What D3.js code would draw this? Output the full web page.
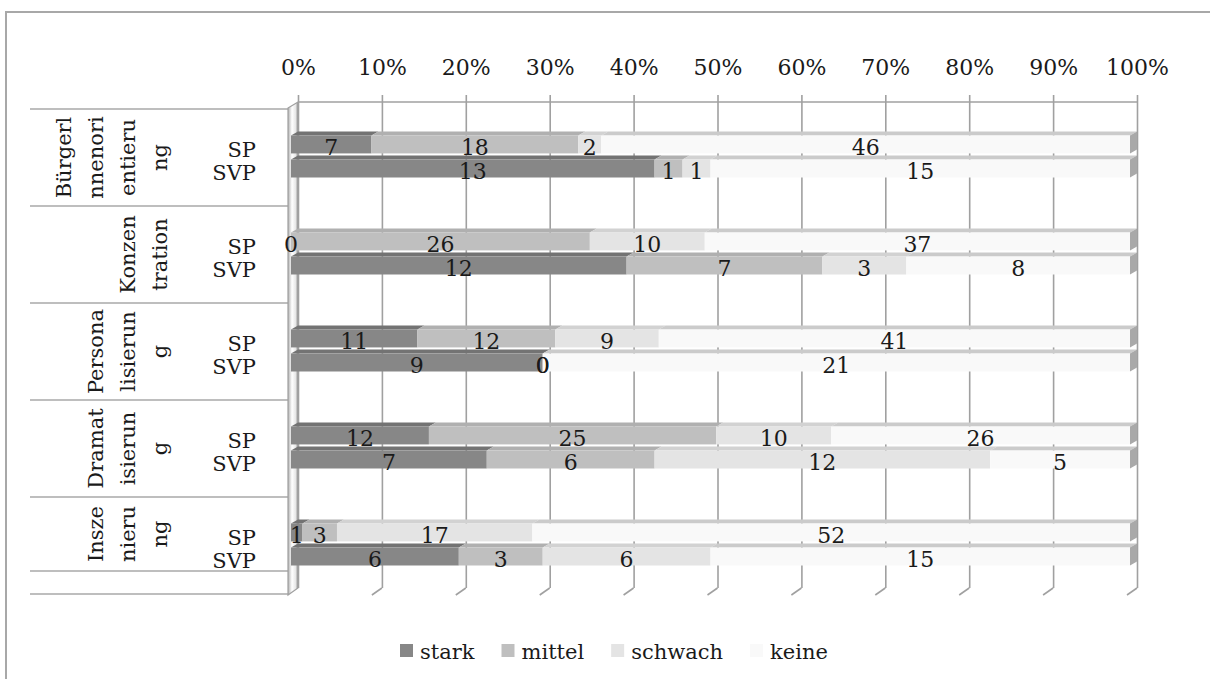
<!DOCTYPE html>
<html lang="de">
<head>
<meta charset="utf-8">
<title>Stacked 3D bars</title>
<script src="https://d3js.org/d3.v7.min.js"></script>
<style>
  body { margin: 0; background: #fff; }
  text { font-family: "DejaVu Serif", serif; fill: #1a1a1a; }
</style>
</head>
<body>
<script>
// chart data (counts per level)
var categories = ["Bürgerinnenorientierung", "Konzentration", "Personalisierung", "Dramatisierung", "Inszenierung"];
var categoryLines = [["Bürgerl", "nnenori", "entieru", "ng"], ["Konzen", "tration"], ["Persona", "lisierun", "g"], ["Dramat", "isierun", "g"], ["Insze", "nieru", "ng"]];
var parties = ["SP", "SVP"];
var levels = ["stark", "mittel", "schwach", "keine"];
var spValues = [[7, 18, 2, 46], [0, 26, 10, 37], [11, 12, 9, 41], [12, 25, 10, 26], [1, 3, 17, 52]];
var svpValues = [[13, 1, 1, 15], [12, 7, 3, 8], [9, 0, 0, 21], [7, 6, 12, 5], [6, 3, 6, 15]];
var tickValues = [0, 0.1, 0.2, 0.3, 0.4, 0.5, 0.6, 0.7, 0.8, 0.9, 1];
var tickLabels = ["0%", "10%", "20%", "30%", "40%", "50%", "60%", "70%", "80%", "90%", "100%"];

var frontColor = {stark: "#878787", mittel: "#bfbfbf", schwach: "#e4e4e4", keine: "#f9f9f9"};
var topColor = {stark: "#737373", mittel: "#b0b0b0", schwach: "#d2d2d2", keine: "#cbcbcb"};

var W = 1210, H = 679;
var dx = 7, dy = 4;          // bar depth
var wallTop = 102, wallBottom = 588;

var svg = d3.select("body").append("svg")
    .attr("width", W).attr("height", H);

// outer frame
svg.append("rect")
    .attr("x", 6).attr("y", 12).attr("width", W).attr("height", H)
    .attr("fill", "none").attr("stroke", "#a8a8a8").attr("stroke-width", 2);

var x = d3.scaleLinear().domain([0, 1]).range([291, 1130]);
var xBack = d3.scaleLinear().domain([0, 1]).range([298, 1137]);
var y = d3.scaleBand().domain(categories).range([109, 594]);
var yParty = d3.scaleBand().domain(parties).range([-26, 20]).paddingInner(0.09);

// rows for stacking
var rows = [];
categories.forEach(function(c, i) {
    parties.forEach(function(p) {
        var vals = p == "SP" ? spValues[i] : svpValues[i];
        var r = {cat: c, party: p};
        levels.forEach(function(l, k) { r[l] = vals[k]; });
        rows.push(r);
    });
});
var series = d3.stack().keys(levels).offset(d3.stackOffsetExpand)(rows);

// grid + tick labels on the back wall
var axis = d3.axisTop(xBack)
    .tickValues(tickValues)
    .tickFormat(function(d, i) { return tickLabels[i]; })
    .tickSize(-(wallBottom - 95))
    .tickPadding(20);
var ax = svg.append("g").attr("transform", "translate(0,95)").call(axis);
ax.select(".domain").remove();
ax.selectAll(".tick line").attr("stroke", "#a0a0a0").attr("stroke-width", 1.6);
ax.selectAll(".tick text").attr("font-size", 22).style("font-family", "DejaVu Serif").attr("fill", "#1a1a1a");

svg.append("line")
    .attr("x1", xBack(0)).attr("x2", xBack(1)).attr("y1", wallTop).attr("y2", wallTop)
    .attr("stroke", "#a0a0a0").attr("stroke-width", 1.6);

// floor ticks
svg.selectAll(".floor").data(tickValues.slice(1)).enter().append("line")
    .attr("x1", function(d) { return xBack(d); }).attr("y1", wallBottom)
    .attr("x2", function(d) { return xBack(d) - 10; }).attr("y2", wallBottom + 7)
    .attr("stroke", "#a0a0a0").attr("stroke-width", 1.6);

// table lines on the left
var rowLines = categories.map(function(c) { return y(c); }).concat([571, 594]);
svg.selectAll(".rowline").data(rowLines).enter().append("line")
    .attr("x1", 30).attr("x2", 288)
    .attr("y1", function(d) { return d; }).attr("y2", function(d) { return d; })
    .attr("stroke", "#a8a8a8").attr("stroke-width", 1.6);

// left wall
var grad = svg.append("defs").append("linearGradient").attr("id", "wall");
grad.append("stop").attr("offset", "0%").attr("stop-color", "#b0b0b0");
grad.append("stop").attr("offset", "40%").attr("stop-color", "#ffffff");
grad.append("stop").attr("offset", "75%").attr("stop-color", "#e8e8e8");
grad.append("stop").attr("offset", "100%").attr("stop-color", "#949494");
svg.append("path")
    .attr("d", "M288,108 L" + xBack(0) + "," + wallTop + " L" + xBack(0) + "," + wallBottom + " L288,595 Z")
    .attr("fill", "url(#wall)").attr("stroke", "#a0a0a0").attr("stroke-width", 1.2);

// bars
var bars = svg.append("g");
series.forEach(function(s) {
    s.forEach(function(seg) {
        var r = seg.data;
        var yt = y(r.cat) + y.bandwidth() / 2 + yParty(r.party) + dy;
        var yb = yt + yParty.bandwidth() - dy;
        var x0 = x(seg[0]), x1 = x(seg[1]);
        if (x1 - x0 <= 0) return;
        bars.append("path")
            .attr("d", "M" + x0 + "," + yt + "L" + (x0 + dx) + "," + (yt - dy) + "L" + (x1 + dx) + "," + (yt - dy) + "L" + x1 + "," + yt + "Z")
            .attr("fill", topColor[s.key]);
        bars.append("rect")
            .attr("x", x0).attr("y", yt).attr("width", x1 - x0).attr("height", yb - yt)
            .attr("fill", frontColor[s.key]);
        if (seg[1] >= 0.9999) {
            bars.append("path")
                .attr("d", "M" + x1 + "," + yt + "L" + (x1 + dx) + "," + (yt - dy) + "L" + (x1 + dx) + "," + (yb - dy) + "L" + x1 + "," + yb + "Z")
                .attr("fill", "#a9a9a9");
        }
    });
});

// data labels
series.forEach(function(s) {
    svg.append("g").selectAll("text").data(s).enter().append("text")
        .attr("x", function(d) { return (x(d[0]) + x(d[1])) / 2; })
        .attr("y", function(d) {
            var r = d.data;
            return y(r.cat) + y.bandwidth() / 2 + yParty(r.party) + dy + (yParty.bandwidth() - dy) / 2 + 3;
        })
        .attr("text-anchor", "middle")
        .attr("dominant-baseline", "central")
        .attr("font-size", 22)
        .text(function(d) { return d.data[s.key]; });
});

// party labels
categories.forEach(function(c) {
    parties.forEach(function(p, j) {
        svg.append("text")
            .attr("x", 256)
            .attr("y", y(c) + y.bandwidth() / 2 + (j == 0 ? -7.5 : 15.5))
            .attr("text-anchor", "end")
            .attr("dominant-baseline", "central")
            .attr("font-size", 21)
            .text(p);
    });
});

// category names, wrapped and turned
categories.forEach(function(c, i) {
    var lines = categoryLines[i];
    var yc = (y(c) + Math.min(y(c) + y.bandwidth(), 571)) / 2;
    lines.forEach(function(t, j) {
        var cx = 160 - 32 * (lines.length - 1 - j);
        svg.append("text")
            .attr("transform", "translate(" + cx + "," + yc + ") rotate(-90)")
            .attr("text-anchor", "middle")
            .attr("dominant-baseline", "central")
            .attr("font-size", 21)
            .text(t);
    });
});

// legend
var lx = 400;
levels.forEach(function(l) {
    svg.append("rect")
        .attr("x", lx).attr("y", 644).attr("width", 13).attr("height", 13)
        .attr("fill", frontColor[l]);
    var t = svg.append("text")
        .attr("x", lx + 20).attr("y", 652)
        .attr("dominant-baseline", "central")
        .attr("font-size", 21)
        .text(l);
    lx += 20 + t.node().getComputedTextLength() + 27;
});
</script>
</body>
</html>
